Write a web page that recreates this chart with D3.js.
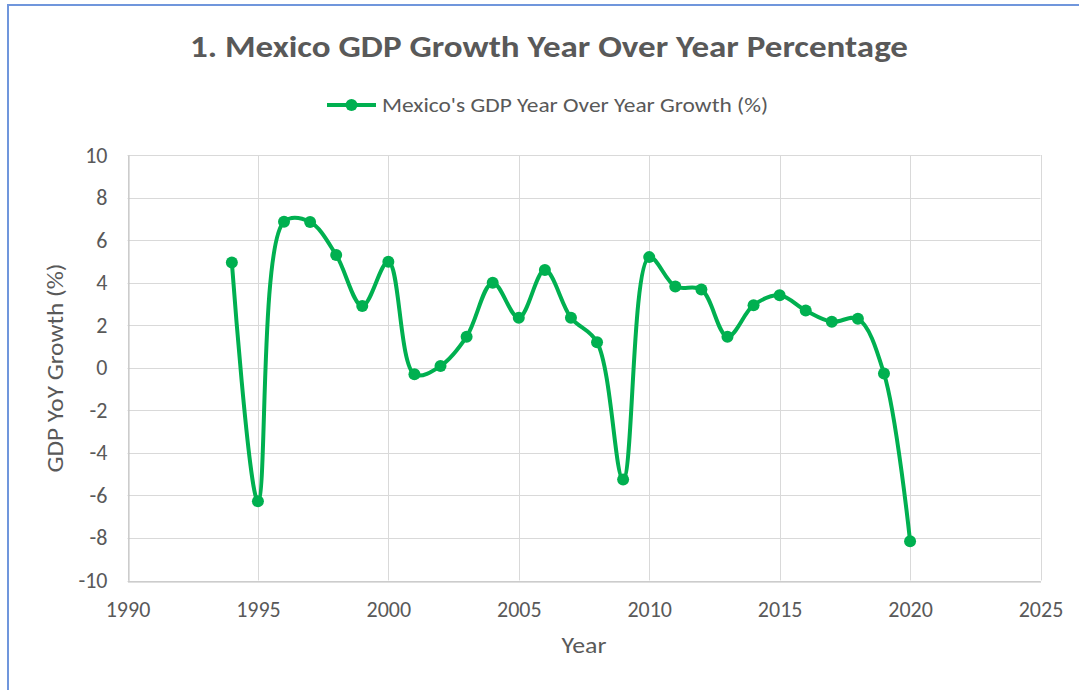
<!DOCTYPE html>
<html>
<head>
<meta charset="utf-8">
<script src="https://cdn.jsdelivr.net/npm/d3@7"></script>
<style>
  html, body { margin: 0; padding: 0; background: #fff; }
  svg { display: block; }
</style>
</head>
<body>
<svg id="chart" width="1079" height="690"></svg>
<script>
const years = [1994,1995,1996,1997,1998,1999,2000,2001,2002,2003,2004,2005,2006,2007,2008,2009,2010,2011,2012,2013,2014,2015,2016,2017,2018,2019,2020];
const growth = [4.95,-6.27,6.86,6.85,5.3,2.9,4.98,-0.31,0.08,1.46,4.0,2.35,4.59,2.35,1.2,-5.25,5.2,3.82,3.68,1.46,2.94,3.41,2.69,2.16,2.3,-0.27,-8.15];
const xTicks = [1990,1995,2000,2005,2010,2015,2020,2025];
const yTicks = [-10,-8,-6,-4,-2,0,2,4,6,8,10];
const titleText = "1. Mexico GDP Growth Year Over Year Percentage";
const seriesName = "Mexico's GDP Year Over Year Growth (%)";
const xTitle = "Year";
const yTitle = "GDP YoY Growth (%)";

const svg = d3.select("#chart");
const font = "Calibri, Carlito, Lato, sans-serif";
const grey = "#595959";
const green = "#00B050";

// frame border
svg.append("line").attr("x1", 7).attr("x2", 1079).attr("y1", 5).attr("y2", 5)
  .attr("stroke", "#7096dc").attr("stroke-width", 2);
svg.append("line").attr("x1", 8).attr("x2", 8).attr("y1", 4).attr("y2", 690)
  .attr("stroke", "#7096dc").attr("stroke-width", 2);

const pLeft = 127.5, pRight = 1040.5, pTop = 155, pBottom = 580.5;
const x = d3.scaleLinear().domain([1990, 2025]).range([pLeft, pRight]);
const y = d3.scaleLinear().domain([-10, 10]).range([pBottom, pTop]);

// grid
svg.append("g").selectAll("line").data(yTicks).join("line")
  .attr("x1", pLeft).attr("x2", pRight)
  .attr("y1", d => Math.round(y(d)) + 0.5).attr("y2", d => Math.round(y(d)) + 0.5)
  .attr("stroke", "#d9d9d9").attr("stroke-width", 1);
svg.append("g").selectAll("line").data(xTicks).join("line")
  .attr("y1", pTop).attr("y2", pBottom)
  .attr("x1", d => Math.round(x(d)) + 0.5).attr("x2", d => Math.round(x(d)) + 0.5)
  .attr("stroke", "#d9d9d9").attr("stroke-width", 1);

// axes
const xAxis = svg.append("g").attr("transform", `translate(0,${Math.round(pBottom) + 0.5})`)
  .call(d3.axisBottom(x).tickValues(xTicks).tickFormat(d3.format("d")).tickSize(0).tickPadding(20));
const yAxis = svg.append("g").attr("transform", `translate(${Math.round(pLeft) + 0.5},0)`)
  .call(d3.axisLeft(y).tickValues(yTicks).tickFormat(d => d).tickSize(0).tickPadding(21));
[xAxis, yAxis].forEach(a => {
  a.select(".domain").attr("stroke", "#bfbfbf").attr("stroke-width", 1);
  a.selectAll("text").attr("fill", grey).style("font-family", font).style("font-size", "22px");
});

// line
const pts = years.map((yr, i) => [yr, growth[i]]);
const line = d3.line().x(d => x(d[0])).y(d => y(d[1])).curve(d3.curveCatmullRom.alpha(0.5));
svg.append("path").datum(pts).attr("d", line)
  .attr("fill", "none").attr("stroke", green).attr("stroke-width", 4)
  .attr("stroke-linejoin", "round").attr("stroke-linecap", "round");
svg.append("g").selectAll("circle").data(pts).join("circle")
  .attr("cx", d => x(d[0])).attr("cy", d => y(d[1])).attr("r", 6).attr("fill", green);

// title
svg.append("text").attr("x", 549).attr("y", 57).attr("text-anchor", "middle")
  .attr("textLength", 718).attr("lengthAdjust", "spacingAndGlyphs")
  .attr("fill", grey).style("font-family", font).style("font-weight", "bold").style("font-size", "30px")
  .text(titleText);

// legend
svg.append("line").attr("x1", 327).attr("x2", 376).attr("y1", 105).attr("y2", 105)
  .attr("stroke", green).attr("stroke-width", 4);
svg.append("circle").attr("cx", 351.5).attr("cy", 105).attr("r", 6).attr("fill", green);
svg.append("text").attr("x", 382).attr("y", 112).attr("fill", grey)
  .attr("textLength", 386).attr("lengthAdjust", "spacingAndGlyphs")
  .style("font-family", font).style("font-size", "20px").text(seriesName);

// axis titles
svg.append("text").attr("x", 584).attr("y", 653).attr("text-anchor", "middle").attr("fill", grey)
  .attr("textLength", 45).attr("lengthAdjust", "spacingAndGlyphs")
  .style("font-family", font).style("font-size", "22px").text(xTitle);
svg.append("text").attr("transform", "translate(63,368) rotate(-90)").attr("text-anchor", "middle").attr("fill", grey)
  .attr("textLength", 209).attr("lengthAdjust", "spacingAndGlyphs")
  .style("font-family", font).style("font-size", "22px").text(yTitle);
</script>
</body>
</html>
